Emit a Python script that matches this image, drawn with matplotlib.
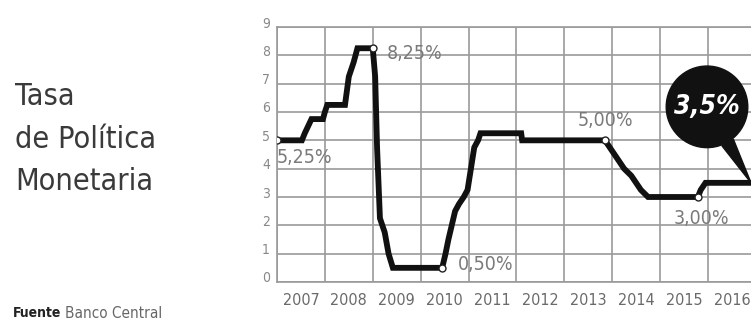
import matplotlib
matplotlib.use("Agg")
import matplotlib.pyplot as plt
from matplotlib.transforms import ScaledTranslation

# ---- data ----
years = [2007.00, 2007.52, 2007.58, 2007.65, 2007.72, 2007.96, 2008.00, 2008.05,
         2008.42, 2008.50, 2008.60, 2008.68, 2009.00, 2009.05, 2009.09, 2009.15,
         2009.25, 2009.33, 2009.42, 2010.45, 2010.52, 2010.58, 2010.65, 2010.72,
         2010.80, 2010.90, 2010.98, 2011.05, 2011.12, 2011.20, 2011.25, 2012.10,
         2012.12, 2013.85, 2013.95, 2014.05, 2014.15, 2014.25, 2014.40, 2014.50,
         2014.60, 2014.75, 2015.79, 2015.85, 2015.95, 2016.90]
rates = [5.00, 5.00, 5.25, 5.50, 5.75, 5.75, 6.00, 6.25,
         6.25, 7.25, 7.75, 8.25, 8.25, 7.25, 4.75, 2.25,
         1.75, 1.00, 0.50, 0.50, 1.00, 1.50, 2.00, 2.50,
         2.75, 3.00, 3.25, 4.00, 4.75, 5.00, 5.25, 5.25,
         5.00, 5.00, 4.75, 4.50, 4.25, 4.00, 3.75, 3.50,
         3.25, 3.00, 3.00, 3.25, 3.50, 3.50]

highlight_years = [2007.00, 2009.00, 2010.45, 2013.85, 2015.79]
highlight_rates = [5.00, 8.25, 0.50, 5.00, 3.00]
highlight_labels = ["5,25%", "8,25%", "0,50%", "5,00%", "3,00%"]

year_labels = ["2007", "2008", "2009", "2010", "2011", "2012", "2013", "2014", "2015", "2016"]
y_ticks = [0, 1, 2, 3, 4, 5, 6, 7, 8, 9]
current_label = "3,5%"

title_lines = ["Tasa", "de Política", "Monetaria"]

# ---- figure ----
W, H = 751, 326
fig = plt.figure(figsize=(W / 100, H / 100), dpi=100)
fig.patch.set_facecolor("white")

ax = fig.add_axes([277 / W, 44 / H, (W - 277) / W, (282 - 27) / H])
ax.set_xlim(2007, 2016.9)
ax.set_ylim(0, 9)

grid_col = "#9a9a9a"
cond = dict(family="DejaVu Sans", stretch="condensed")

# grid lines on integer years / integer rates
major_x = [2007 + i for i in range(len(year_labels))]
ax.set_xticks(major_x)
ax.set_xticks([x + 0.5 for x in major_x], minor=True)
ax.set_xticklabels([])
ax.set_xticklabels(year_labels, minor=True, color="#6a6a6a", fontsize=11.5, **cond)
ax.tick_params(axis="x", which="both", length=0, pad=8)
ax.set_yticks(y_ticks)
ax.set_yticklabels([str(v) for v in y_ticks], color="#888888", fontsize=10, **cond)
ax.tick_params(axis="y", length=0, pad=5)
for lab in ax.get_yticklabels():
    lab.set_transform(lab.get_transform() + ScaledTranslation(0, 5 / 100, fig.dpi_scale_trans))

ax.grid(True, which="major", color=grid_col, linewidth=1.2)
ax.set_axisbelow(True)
for s in ["left", "bottom", "top"]:
    ax.spines[s].set_color(grid_col)
    ax.spines[s].set_linewidth(1.2)
ax.spines["right"].set_visible(False)

# main line
ax.plot(years, rates, color="#111111", linewidth=4.2, solid_joinstyle="miter",
        solid_capstyle="butt", zorder=3)
ax.plot(highlight_years, highlight_rates, linestyle="none", marker="o", markersize=5,
        markerfacecolor="white", markeredgecolor="#222222", markeredgewidth=1.0, zorder=4)

offsets = [(0, -17, "left"), (14, -5, "left"), (16, 3, "left"), (1, 20, "center"), (4, -21, "center")]
for x, y, t, (dx, dy, ha) in zip(highlight_years, highlight_rates, highlight_labels, offsets):
    ax.annotate(t, xy=(x, y), xytext=(dx, dy), textcoords="offset pixels",
                ha=ha, va="center", fontsize=14, color="#7a7a7a", zorder=5, **cond)

# bubble with the current value
ax.annotate(current_label, xy=(years[-1], rates[-1]), xytext=(-44, 76),
            textcoords="offset pixels", ha="center", va="center",
            fontsize=19, fontweight="bold", style="italic", color="white", zorder=6,
            bbox=dict(boxstyle="circle,pad=0.3", fc="#111111", ec="#111111"),
            arrowprops=dict(arrowstyle="wedge,tail_width=0.5,shrink_factor=0.5",
                            fc="#111111", ec="#111111", shrinkA=0, shrinkB=0),
            annotation_clip=False, **cond)

# title and source
fig.text(15 / W, 1 - 105 / H, title_lines[0], fontsize=22, color="#3a3a3a", va="baseline", **cond)
fig.text(15 / W, 1 - 148 / H, title_lines[1], fontsize=22, color="#3a3a3a", va="baseline", **cond)
fig.text(15 / W, 1 - 190 / H, title_lines[2], fontsize=22, color="#3a3a3a", va="baseline", **cond)

fig.text(13 / W, 1 - 313 / H, "Fuente", fontsize=10, fontweight="bold", color="#222222", va="center", **cond)
fig.text(65 / W, 1 - 313 / H, "Banco Central", fontsize=11, color="#666666", va="center", **cond)

fig.savefig("out.png", dpi=100, facecolor="white")
